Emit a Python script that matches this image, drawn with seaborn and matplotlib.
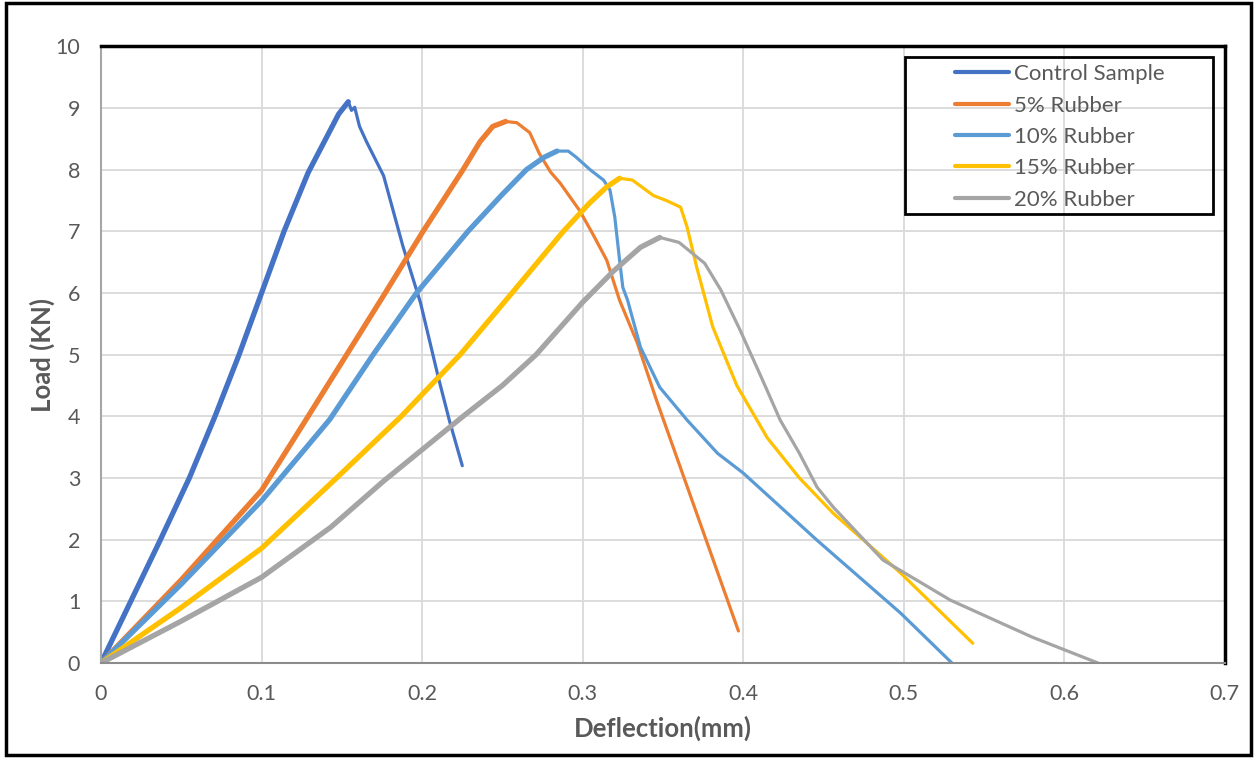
import numpy as np
import pandas as pd
import matplotlib.pyplot as plt
import seaborn as sns
from matplotlib.patches import Rectangle

# Données (Deflection en mm, Load en kN)
control_x = [0, 0.0185, 0.037, 0.055, 0.071, 0.086, 0.10, 0.114, 0.129, 0.142, 0.148,
             0.154, 0.156, 0.158, 0.161, 0.1654, 0.176, 0.188, 0.199, 0.21, 0.217, 0.225]
control_y = [0, 1.0, 2.0, 3.0, 4.0, 5.0, 6.0, 7.0, 7.95, 8.6, 8.9,
             9.1, 8.96, 9.01, 8.7, 8.45, 7.9, 6.76, 5.84, 4.64, 3.93, 3.2]

r5_x = [0, 0.05, 0.10, 0.129, 0.153, 0.177, 0.2006, 0.2255, 0.236, 0.244, 0.252, 0.259,
        0.267, 0.273, 0.28, 0.286, 0.298, 0.306, 0.315, 0.323, 0.334, 0.346, 0.397]
r5_y = [0, 1.35, 2.8, 4.0, 5.0, 6.0, 7.0, 8.0, 8.45, 8.7, 8.78, 8.76,
        8.6, 8.26, 7.96, 7.78, 7.34, 6.97, 6.53, 5.88, 5.19, 4.26, 0.52]

r10_x = [0, 0.05, 0.10, 0.1425, 0.1695, 0.1965, 0.2286, 0.25, 0.265, 0.276, 0.284,
         0.291, 0.296, 0.305, 0.313, 0.317, 0.32, 0.323, 0.325, 0.328, 0.336, 0.348,
         0.365, 0.384, 0.40, 0.446, 0.498, 0.53]
r10_y = [0, 1.28, 2.63, 3.95, 5.0, 6.0, 7.0, 7.6, 8.0, 8.2, 8.3,
         8.3, 8.2, 7.99, 7.83, 7.67, 7.23, 6.53, 6.09, 5.88, 5.12, 4.47,
         3.94, 3.4, 3.08, 1.99, 0.81, 0]

r15_x = [0, 0.05, 0.10, 0.1467, 0.187, 0.2237, 0.256, 0.288, 0.304, 0.315, 0.323, 0.331,
         0.344, 0.352, 0.361, 0.365, 0.371, 0.381, 0.396, 0.415, 0.435, 0.456,
         0.498, 0.543]
r15_y = [0, 0.9, 1.86, 3.0, 4.0, 5.0, 6.0, 7.0, 7.45, 7.72, 7.86, 7.83,
         7.58, 7.5, 7.39, 7.07, 6.42, 5.45, 4.5, 3.65, 3.0, 2.43,
         1.46, 0.32]

r20_x = [0, 0.05, 0.10, 0.143, 0.176, 0.2255, 0.25, 0.271, 0.30, 0.319, 0.336,
         0.348, 0.36, 0.376, 0.386, 0.398, 0.412, 0.423, 0.435, 0.446, 0.456,
         0.487, 0.529, 0.58, 0.621]
r20_y = [0, 0.68, 1.39, 2.2, 2.95, 4.0, 4.5, 5.0, 5.85, 6.35, 6.74,
         6.9, 6.82, 6.48, 6.05, 5.4, 4.59, 3.94, 3.4, 2.85, 2.53,
         1.67, 1.02, 0.42, 0]

labels = ["Control Sample", "5% Rubber", "10% Rubber", "15% Rubber", "20% Rubber"]
colors = ["#4472C4", "#ED7D31", "#5B9BD5", "#FFC000", "#A5A5A5"]
xs_all = [control_x, r5_x, r10_x, r15_x, r20_x]
ys_all = [control_y, r5_y, r10_y, r15_y, r20_y]

sns.set_style("white")
plt.rcParams['font.family'] = ['Lato', 'DejaVu Sans']

fig = plt.figure(figsize=(12.55, 7.58), dpi=100)
ax = fig.add_axes([0.0805, 0.1253, 0.8955, 0.8137])

for name, xs, ys, col in zip(labels, xs_all, ys_all, colors):
    df = pd.DataFrame({"Deflection": xs, "Load": ys})
    sns.lineplot(data=df, x="Deflection", y="Load", color=col, lw=2.3,
                 sort=False, label=name, ax=ax)
    # partie montante plus épaisse (signal bruité)
    k = int(np.argmax(ys))
    sns.lineplot(data=df.iloc[:k + 1], x="Deflection", y="Load", color=col,
                 lw=3.8, sort=False, ax=ax, legend=False)

ax.set_xlim(0, 0.7)
ax.set_ylim(0, 10)
ax.set_xticks(np.arange(0, 0.71, 0.1))
ax.set_xticklabels(["0", "0.1", "0.2", "0.3", "0.4", "0.5", "0.6", "0.7"])
ax.set_yticks(range(0, 11))
ax.grid(True, color="#D9D9D9", lw=1.3)
ax.tick_params(axis='both', labelsize=15.5, colors="#595959", length=0)
ax.tick_params(axis='y', pad=15)
ax.tick_params(axis='x', pad=15)

ax.set_xlabel("Deflection(mm)", fontsize=18.5, fontweight='bold', color="#595959")
ax.set_ylabel("Load (KN)", fontsize=18.5, fontweight='bold', color="#595959")
ax.xaxis.set_label_coords(0.5, -0.085)
ax.yaxis.set_label_coords(-0.041, 0.5)

ax.spines['top'].set_color("black")
ax.spines['top'].set_linewidth(2.5)
ax.spines['right'].set_color("black")
ax.spines['right'].set_linewidth(2.5)
ax.spines['left'].set_color("#A6A6A6")
ax.spines['left'].set_linewidth(1.5)
ax.spines['bottom'].set_color("#8C8C8C")
ax.spines['bottom'].set_linewidth(1.5)

leg = ax.legend(loc="upper left", bbox_to_anchor=(0.7598, 0.9708), fontsize=16,
                frameon=False, handlelength=2.45, handletextpad=0.2,
                borderpad=0, labelspacing=0.51, borderaxespad=0)
for t in leg.get_texts():
    t.set_color("#595959")
for h in leg.get_lines():
    h.set_linewidth(3)

# cadre de la légende
ax.add_patch(Rectangle((0.7153, 0.7277), 0.274, 0.2545, transform=ax.transAxes,
                       fill=False, edgecolor="black", lw=2, zorder=5))

# cadre extérieur
fig.patches.append(Rectangle((0.005, 0.004), 0.992, 0.992, transform=fig.transFigure,
                             fill=False, edgecolor="black", lw=2.5))

plt.savefig("out.png", dpi=100)
